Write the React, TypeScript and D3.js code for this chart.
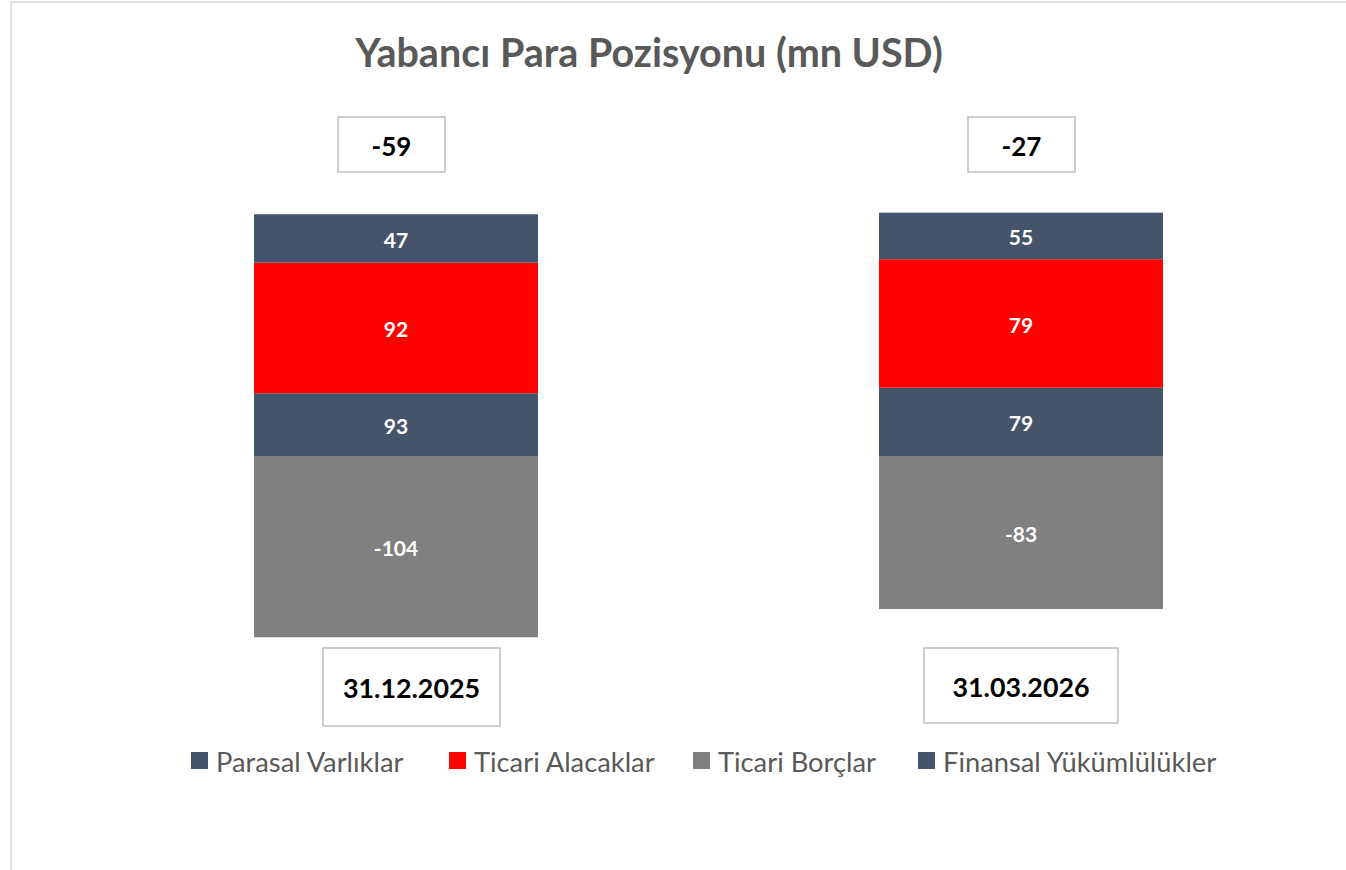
import React from "react";
import * as d3 from "d3";

// ---- data ----
const categories = ["31.12.2025", "31.03.2026"];
const seriesNames = ["Parasal Varlıklar", "Ticari Alacaklar", "Ticari Borçlar", "Finansal Yükümlülükler"];
const seriesColors = ["#44546A", "#FF0000", "#808080", "#44546A"];
// drawn segment sizes
const parasalVarliklar = [36.0, 39.2];
const ticariAlacaklar = [74.9, 73.7];
const ticariBorclar = [-104.0, -87.8];
const finansalYukumlulukler = [27.8, 26.7];
// labels printed on the segments
const parasalLabels = ["93", "79"];
const alacakLabels = ["92", "79"];
const borcLabels = ["-104", "-83"];
const finansalLabels = ["47", "55"];
// net position shown above each bar
const netPositions = ["-59", "-27"];

// ---- layout ----
const W = 1346;
const H = 870;
const K = 1.743; // px per unit
const ZERO_Y = 456;
const FONT = "Lato, 'Open Sans', sans-serif";
const netBox = { y: 117, h: 55, w: [107, 107], dx: [-4.5, 0.5] };
const dateBox = { y: 648, h: [78, 75], w: [177, 194], dx: [15.5, 0] };
const legendX = [191, 449, 693, 918];

export default function App() {
  const keys = seriesNames;
  const valueArrays = [parasalVarliklar, ticariAlacaklar, ticariBorclar, finansalYukumlulukler];
  const labelArrays = [parasalLabels, alacakLabels, borcLabels, finansalLabels];

  const rows = categories.map((c, i) => {
    const r: any = { cat: c };
    keys.forEach((k, j) => (r[k] = valueArrays[j][i]));
    return r;
  });

  const stack = d3.stack<any>().keys(keys).offset(d3.stackOffsetDiverging).order(d3.stackOrderNone);
  const layers = stack(rows);

  const x = d3.scaleBand<string>().domain(categories).range([254, 1163]).paddingInner(0.5456).paddingOuter(0);
  const y = d3.scaleLinear().domain([-120, 140]).range([ZERO_Y + 120 * K, ZERO_Y - 140 * K]);

  return (
    <svg width={W} height={H} style={{ position: "absolute", left: 0, top: 0 }} fontFamily={FONT}>
      <rect x={0} y={0} width={W} height={H} fill="#ffffff" />
      <rect x={11} y={2} width={W + 100} height={H + 100} fill="#ffffff" stroke="#d9d9d9" strokeWidth={1.6} />

      <text x={649} y={51} textAnchor="middle" dominantBaseline="central" fontSize={39.5} fontWeight={700} fill="#595959">
        Yabancı Para Pozisyonu (mn USD)
      </text>

      {layers.map((layer, j) => (
        <g key={layer.key}>
          {layer.map((d, i) => {
            const cat = categories[i];
            const x0 = x(cat)!;
            const y0 = y(Math.max(d[0], d[1]));
            const y1 = y(Math.min(d[0], d[1]));
            return (
              <g key={cat}>
                <rect x={x0} y={y0} width={x.bandwidth()} height={y1 - y0} fill={seriesColors[j]} />
                <text
                  x={x0 + x.bandwidth() / 2}
                  y={(y0 + y1) / 2 + 1}
                  textAnchor="middle"
                  dominantBaseline="central"
                  fontSize={21}
                  fontWeight={700}
                  fill="#ffffff"
                >
                  {labelArrays[j][i]}
                </text>
              </g>
            );
          })}
        </g>
      ))}

      {categories.map((c, i) => {
        const cx = x(c)! + x.bandwidth() / 2;
        const nb = { x: cx + netBox.dx[i] - netBox.w[i] / 2, w: netBox.w[i] };
        const db = { x: cx + dateBox.dx[i] - dateBox.w[i] / 2, w: dateBox.w[i], h: dateBox.h[i] };
        return (
          <g key={c}>
            <rect x={nb.x} y={netBox.y} width={nb.w} height={netBox.h} fill="#fff" stroke="#bfbfbf" strokeWidth={1.5} />
            <text x={nb.x + nb.w / 2} y={netBox.y + netBox.h / 2 + 1} textAnchor="middle" dominantBaseline="central" fontSize={26} fontWeight={700} fill="#000">
              {netPositions[i]}
            </text>
            <rect x={db.x} y={dateBox.y} width={db.w} height={db.h} fill="#fff" stroke="#bfbfbf" strokeWidth={1.5} />
            <text x={db.x + db.w / 2} y={dateBox.y + db.h / 2 + 1} textAnchor="middle" dominantBaseline="central" fontSize={26.8} fontWeight={700} fill="#000">
              {c}
            </text>
          </g>
        );
      })}

      {seriesNames.map((s, j) => (
        <g key={s} transform={`translate(${legendX[j]},752)`}>
          <rect x={0} y={0} width={17} height={17} fill={seriesColors[j]} />
          <text x={25} y={9} dominantBaseline="central" fontSize={27.3} fill="#595959">
            {s}
          </text>
        </g>
      ))}
    </svg>
  );
}
